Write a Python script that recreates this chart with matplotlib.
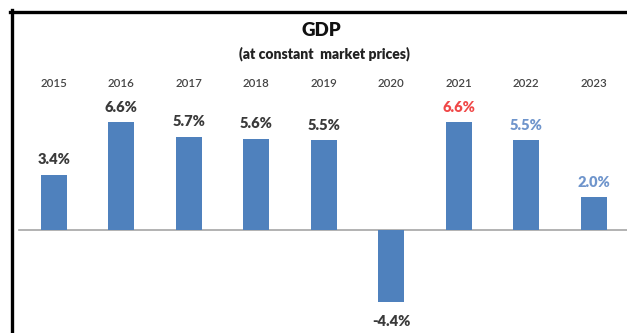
import matplotlib
matplotlib.use('Agg')
import matplotlib.pyplot as plt
from matplotlib.lines import Line2D

plt.rcParams['font.family'] = ['Lato', 'DejaVu Sans']

years = ['2015', '2016', '2017', '2018', '2019', '2020', '2021', '2022', '2023']
growth = [3.4, 6.6, 5.7, 5.6, 5.5, -4.4, 6.6, 5.5, 2.0]
label_colors = ['#3A3A3A'] * 6 + ['#F04848', '#6F95CC', '#6F95CC']

W, H = 627, 333
fig = plt.figure(figsize=(W / 100, H / 100), dpi=100)
ax = fig.add_axes([0, 0, 1, 1])

# pixel geometry of the plot area
px_per_bar = 67.5
first_bar = 53.7
base_y = 230.0
px_per_unit = 16.3

x = list(range(len(years)))
ax.set_xlim(-first_bar / px_per_bar, (len(years) - 1) + (W - first_bar - (len(years) - 1) * px_per_bar) / px_per_bar)
ax.set_ylim(-(H - base_y) / px_per_unit, base_y / px_per_unit)
ax.axis('off')

ax.bar(x, growth, width=26 / px_per_bar, color='#4F81BD', zorder=2)
ax.axhline(0, xmin=19 / W, xmax=1, color='#A6A6A6', lw=1.2, zorder=1)

year_y = (base_y - 83.5) / px_per_unit
for i, yr in enumerate(years):
    ax.text(i, year_y, yr, ha='center', va='center', fontsize=8.3, fontweight='semibold', color='#454545')

for i, v in enumerate(growth):
    off = 11 if v >= 0 else -14
    ax.annotate(f'{v:.1f}%', (i, v), xytext=(0, off), textcoords='offset points',
                ha='center', va='center', fontsize=10.5, fontweight='heavy', color=label_colors[i])

fig.text(321 / W, 1 - 30 / H, 'GDP', ha='center', va='center', fontsize=13.5, fontweight='heavy', color='#111111')
fig.text(324 / W, 1 - 54 / H, '(at constant  market prices)', ha='center', va='center',
         fontsize=10, fontweight='heavy', color='#222222')

# frame lines on top and left
fig.add_artist(Line2D([10 / W, 1], [1 - 11.5 / H, 1 - 11.5 / H], color='black', lw=2.4))
fig.add_artist(Line2D([11.5 / W, 11.5 / W], [0, 1 - 10 / H], color='black', lw=2.4))

fig.savefig('out.png', dpi=100)
